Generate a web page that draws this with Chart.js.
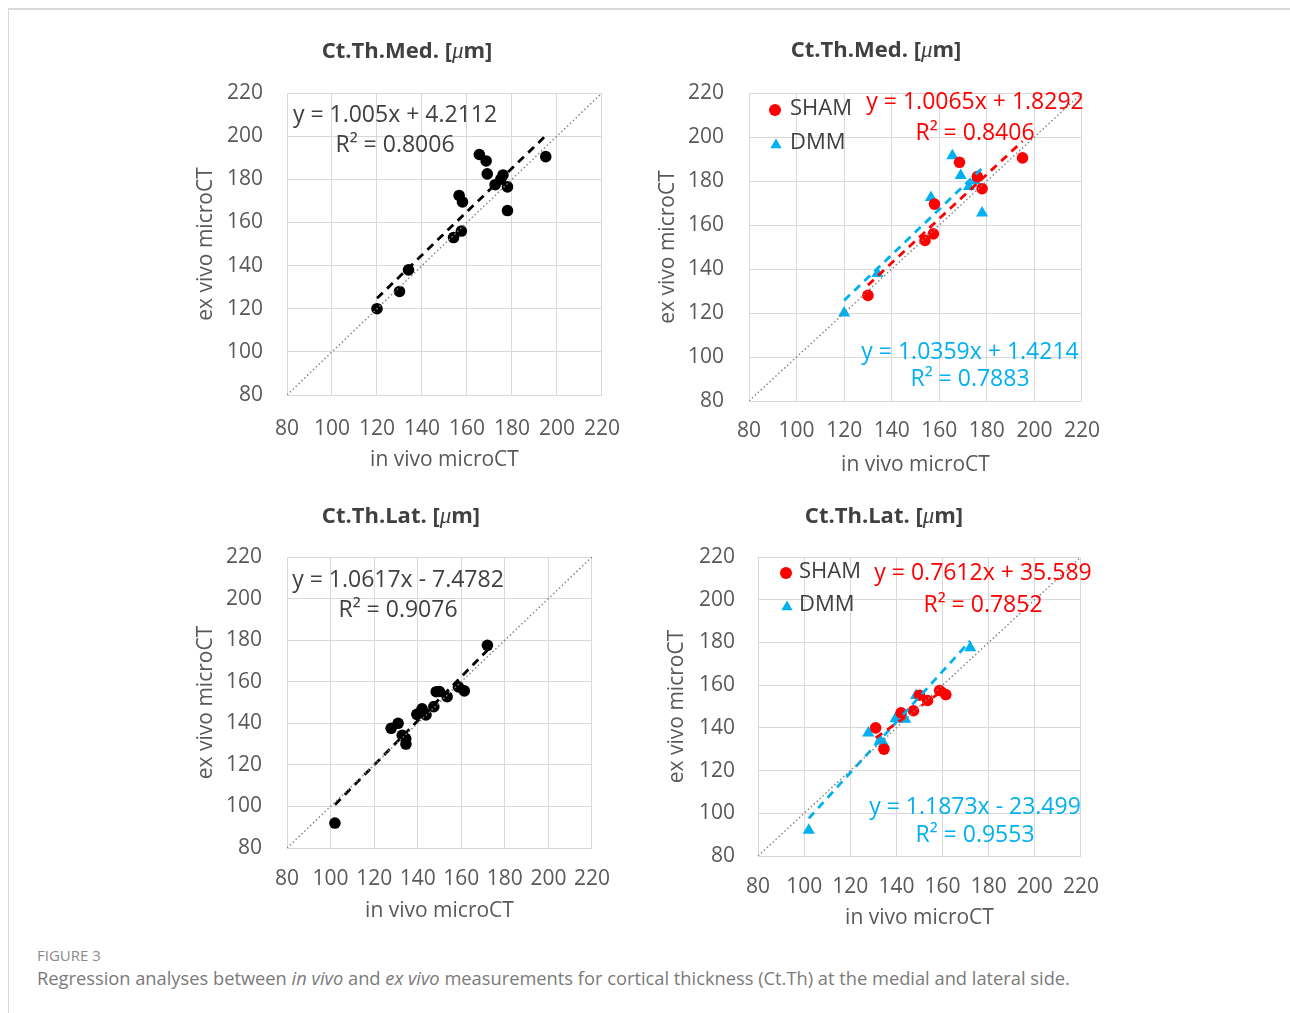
<!DOCTYPE html>
<html><head><meta charset="utf-8">
<script src="https://cdn.jsdelivr.net/npm/chart.js@4.4.1/dist/chart.umd.min.js"></script>
<style>
html,body{margin:0;padding:0;background:#fff;width:1290px;height:1013px;overflow:hidden;font-family:'Open Sans',sans-serif;}
#frame{position:absolute;left:8px;top:8px;width:1300px;height:1020px;border-top:2px solid #d9d9d9;border-left:1px solid #d9d9d9;}
canvas{position:absolute;}
#figlabel{position:absolute;left:37px;top:945px;font-size:15px;color:#8a8a8a;}
#caption{position:absolute;left:37px;top:965px;font-size:18.3px;color:#7a7a7a;white-space:nowrap;}
</style></head><body>
<div id="frame"></div>
<canvas id="c1"></canvas>
<canvas id="c2"></canvas>
<canvas id="c3"></canvas>
<canvas id="c4"></canvas>
<div id="figlabel">FIGURE 3</div>
<div id="caption">Regression analyses between <i>in vivo</i> and <i>ex vivo</i> measurements for cortical thickness (Ct.Th) at the medial and lateral side.</div>
<script>
// ---------- data ----------
const axisTicks = [80, 100, 120, 140, 160, 180, 200, 220];

const medShamX = [130, 154, 157.5, 158, 168.5, 176, 178, 195];
const medShamY = [128, 153, 156, 169.5, 188.5, 182, 176.5, 190.5];
const medDmmX  = [120, 134, 156.5, 165.5, 169, 172.5, 175, 178];
const medDmmY  = [120, 138, 172.5, 191.5, 182.5, 177.5, 180, 165.5];

const latShamX = [131, 134.6, 142, 147.4, 150, 153.5, 158.7, 161.4];
const latShamY = [140, 130, 147, 148, 155.3, 152.8, 157.5, 155.6];
const latDmmX  = [102, 127.8, 132.9, 134.5, 139.6, 143.8, 148.5, 172];
const latDmmY  = [92, 137.6, 134.2, 132.6, 144.3, 144, 155.2, 177.5];

// regression [slope, intercept]
const medAllFit  = [1.005, 4.2112];
const medShamFit = [1.0065, 1.8292];
const medDmmFit  = [1.0359, 1.4214];
const latAllFit  = [1.0617, -7.4782];
const latShamFit = [0.7612, 35.589];
const latDmmFit  = [1.1873, -23.499];

const eqMedAll  = ['y = 1.005x + 4.2112', 'R² = 0.8006'];
const eqMedSham = ['y = 1.0065x + 1.8292', 'R² = 0.8406'];
const eqMedDmm  = ['y = 1.0359x + 1.4214', 'R² = 0.7883'];
const eqLatAll  = ['y = 1.0617x - 7.4782', 'R² = 0.9076'];
const eqLatSham = ['y = 0.7612x + 35.589', 'R² = 0.7852'];
const eqLatDmm  = ['y = 1.1873x - 23.499', 'R² = 0.9553'];

const titleMed = 'Ct.Th.Med.';
const titleLat = 'Ct.Th.Lat.';
const xLabel = 'in vivo microCT';
const yLabel = 'ex vivo microCT';
const groupNames = ['SHAM', 'DMM'];

// ---------- styles ----------
const FONT = "'Open Sans', sans-serif";
const TICK_COLOR = '#595959';
const TEXT_COLOR = '#404040';
const RED = '#FF0000';
const BLUE = '#00B0F0';
const GRID = '#d9d9d9';

Chart.defaults.font.family = FONT;

function pts(xs, ys) { return xs.map((x, i) => ({x: x, y: ys[i]})); }
function fitLine(xs, fit) {
  const lo = Math.min(...xs), hi = Math.max(...xs);
  return [{x: lo, y: fit[0] * lo + fit[1]}, {x: hi, y: fit[0] * hi + fit[1]}];
}
const diagonal = [{x: axisTicks[0], y: axisTicks[0]}, {x: axisTicks[axisTicks.length - 1], y: axisTicks[axisTicks.length - 1]}];

function diagDs() {
  return {data: diagonal, showLine: true, borderColor: '#808080', borderWidth: 1.4, borderDash: [1.5, 2.5], pointRadius: 0, fill: false};
}
function trendDs(xs, fit, color) {
  return {data: fitLine(xs, fit), showLine: true, borderColor: color, borderWidth: 2.8, borderDash: [8, 6], pointRadius: 0, fill: false};
}
function pointDs(xs, ys, color, style) {
  return {data: pts(xs, ys), showLine: false, pointStyle: style, pointRadius: style === 'triangle' ? 7 : 5.8,
          backgroundColor: color, borderColor: color, borderWidth: 0};
}

// annotation plugin: title, equations, legend
const annotPlugin = {
  id: 'annot',
  afterDraw(chart, args, opts) {
    const ctx = chart.ctx;
    const ox = opts.left, oy = opts.top;
    ctx.save();
    const segs = [
      {t: opts.title + ' [', f: "bold 22px " + FONT},
      {t: 'μ', f: "italic 23px 'Liberation Serif', serif"},
      {t: 'm]', f: "bold 22px " + FONT}
    ];
    let total = 0;
    segs.forEach(s => { ctx.font = s.f; s.w = ctx.measureText(s.t).width; total += s.w; });
    let x = opts.titleX - ox - total / 2;
    ctx.fillStyle = TEXT_COLOR;
    ctx.textBaseline = 'middle';
    ctx.textAlign = 'left';
    segs.forEach(s => { ctx.font = s.f; ctx.fillText(s.t, x, opts.titleY - oy); x += s.w; });
    ctx.textAlign = 'center';
    ctx.font = "23px " + FONT;
    (opts.eqs || []).forEach(e => {
      ctx.fillStyle = e.color;
      ctx.fillText(e.lines[0], e.x - ox, e.y1 - oy);
      ctx.fillText(e.lines[1], e.x - ox, e.y2 - oy);
    });
    ctx.textAlign = 'left';
    ctx.font = "22px " + FONT;
    (opts.legend || []).forEach(l => {
      ctx.fillStyle = l.color;
      ctx.strokeStyle = l.color;
      Chart.helpers.drawPoint(ctx, {pointStyle: l.style, radius: l.style === 'triangle' ? 6.5 : 6, rotation: 0, borderWidth: 0}, l.mx - ox, l.my - oy);
      ctx.fillStyle = TEXT_COLOR;
      ctx.fillText(l.text, l.tx - ox, l.ty - oy);
    });
    ctx.restore();
  }
};

function makeChart(p) {
  const cv = document.getElementById(p.id);
  cv.width = p.width; cv.height = p.height;
  cv.style.left = p.left + 'px'; cv.style.top = p.top + 'px';
  cv.style.width = p.width + 'px'; cv.style.height = p.height + 'px';
  const yAxisW = p.area.l - p.left;
  const xAxisH = p.top + p.height - p.area.b;
  const padTop = p.area.t - p.top;
  const padRight = p.left + p.width - p.area.r;
  new Chart(cv, {
    type: 'scatter',
    data: {datasets: p.datasets},
    options: {
      responsive: false, animation: false, devicePixelRatio: 1,
      layout: {padding: {left: 0, top: padTop, right: padRight, bottom: 0}},
      plugins: {legend: {display: false}, tooltip: {enabled: false}, title: {display: false},
        annot: {left: p.left, top: p.top, title: p.title, titleX: p.titleX, titleY: p.titleY, eqs: p.eqs, legend: p.legend}},
      scales: {
        x: {type: 'linear', min: axisTicks[0], max: axisTicks[axisTicks.length - 1],
          afterBuildTicks: s => { s.ticks = axisTicks.map(v => ({value: v})); },
          grid: {color: GRID, lineWidth: 1, drawTicks: false},
          border: {color: GRID, width: 1},
          ticks: {color: TICK_COLOR, font: {size: 21}, padding: p.xTickPad, maxRotation: 0, autoSkip: false},
          title: {display: true, text: xLabel, color: TICK_COLOR, font: {size: 21}, padding: 0},
          afterFit: s => { s.height = xAxisH; }
        },
        y: {type: 'linear', min: axisTicks[0], max: axisTicks[axisTicks.length - 1],
          afterBuildTicks: s => { s.ticks = axisTicks.map(v => ({value: v})); },
          grid: {color: GRID, lineWidth: 1, drawTicks: false},
          border: {color: GRID, width: 1},
          ticks: {color: TICK_COLOR, font: {size: 21}, padding: p.yTickPad, autoSkip: false},
          title: {display: true, text: yLabel, color: TICK_COLOR, font: {size: 21}, padding: 0},
          afterFit: s => { s.width = yAxisW; }
        }
      }
    },
    plugins: [annotPlugin]
  });
}

const medAllX = medShamX.concat(medDmmX), medAllY = medShamY.concat(medDmmY);
const latAllX = latShamX.concat(latDmmX), latAllY = latShamY.concat(latDmmY);

const panels = [
  {id: 'c1', left: 193, top: 20, width: 448, height: 453, area: {l: 287, r: 611, t: 93, b: 395},
   xTickPad: 21, yTickPad: 24, title: titleMed, titleX: 407, titleY: 52,
   datasets: [diagDs(), trendDs(medAllX, medAllFit, '#000000'), pointDs(medAllX, medAllY, '#000000', 'circle')],
   eqs: [{lines: eqMedAll, color: TEXT_COLOR, x: 395, y1: 115, y2: 145}]},
  {id: 'c2', left: 655, top: 20, width: 462, height: 458, area: {l: 749, r: 1087, t: 93, b: 401},
   xTickPad: 17, yTickPad: 25, title: titleMed, titleX: 876, titleY: 51,
   datasets: [diagDs(), trendDs(medShamX, medShamFit, RED), trendDs(medDmmX, medDmmFit, BLUE),
              pointDs(medShamX, medShamY, RED, 'circle'), pointDs(medDmmX, medDmmY, BLUE, 'triangle')],
   eqs: [{lines: eqMedSham, color: RED, x: 975, y1: 102, y2: 133},
         {lines: eqMedDmm, color: BLUE, x: 970, y1: 352, y2: 379}],
   legend: [{text: groupNames[0], color: RED, style: 'circle', mx: 775, my: 110, tx: 790, ty: 109},
            {text: groupNames[1], color: BLUE, style: 'triangle', mx: 776, my: 145, tx: 790, ty: 143}]},
  {id: 'c3', left: 193, top: 490, width: 435, height: 434, area: {l: 287, r: 598, t: 557, b: 848},
   xTickPad: 18, yTickPad: 25, title: titleLat, titleX: 401, titleY: 517,
   datasets: [diagDs(), trendDs(latAllX, latAllFit, '#000000'), pointDs(latAllX, latAllY, '#000000', 'circle')],
   eqs: [{lines: eqLatAll, color: TEXT_COLOR, x: 398, y1: 580, y2: 610}]},
  {id: 'c4', left: 664, top: 490, width: 453, height: 441, area: {l: 758, r: 1087, t: 557, b: 856},
   xTickPad: 18, yTickPad: 23, title: titleLat, titleX: 884, titleY: 517,
   datasets: [diagDs(), trendDs(latShamX, latShamFit, RED), trendDs(latDmmX, latDmmFit, BLUE),
              pointDs(latShamX, latShamY, RED, 'circle'), pointDs(latDmmX, latDmmY, BLUE, 'triangle')],
   eqs: [{lines: eqLatSham, color: RED, x: 983, y1: 573, y2: 605},
         {lines: eqLatDmm, color: BLUE, x: 975, y1: 807, y2: 835}],
   legend: [{text: groupNames[0], color: RED, style: 'circle', mx: 786, my: 573, tx: 799, ty: 572},
            {text: groupNames[1], color: BLUE, style: 'triangle', mx: 787, my: 607, tx: 799, ty: 605}]}
];

panels.forEach(makeChart);
</script>
</body></html>
